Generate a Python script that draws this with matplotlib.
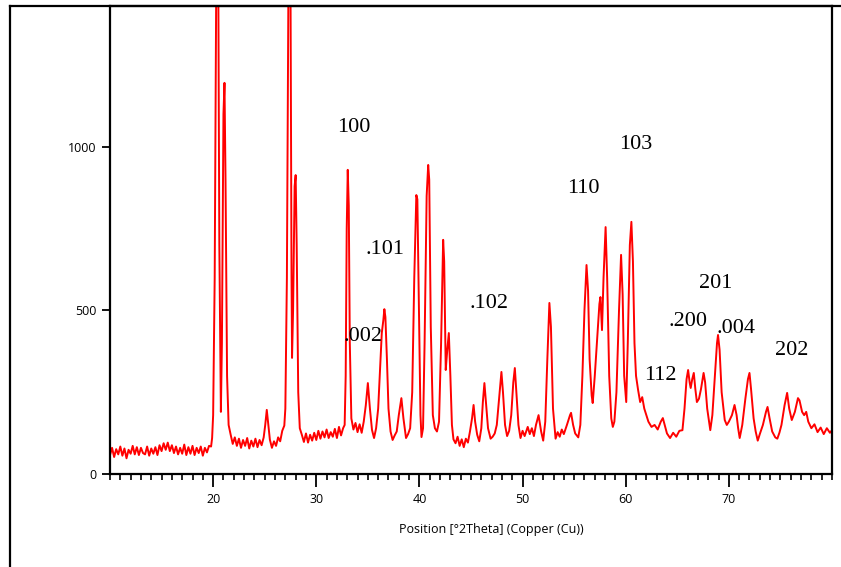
import numpy as np
import matplotlib
matplotlib.use("Agg")
import matplotlib.pyplot as plt
from matplotlib.lines import Line2D
from matplotlib.ticker import MultipleLocator

# =========================================================
# Data
# =========================================================
two_theta = [
    10.0, 10.2, 10.4, 10.6, 10.8, 11.0, 11.2, 11.4, 11.6, 11.8,
    12.0, 12.2, 12.4, 12.6, 12.8, 13.0, 13.2, 13.4, 13.6, 13.8,
    14.0, 14.2, 14.4, 14.6, 14.8, 15.0, 15.2, 15.4, 15.6, 15.8,
    16.0, 16.2, 16.4, 16.6, 16.8, 17.0, 17.2, 17.4, 17.6, 17.8,
    18.0, 18.2, 18.4, 18.6, 18.8, 19.0, 19.2, 19.4, 19.6, 19.8, 19.9,
    20.0, 20.15, 20.3, 20.4, 20.5, 20.6, 20.75, 20.85, 21.0, 21.1, 21.2, 21.35, 21.5,
    21.7, 21.9, 22.1, 22.3, 22.5, 22.7, 22.9, 23.1, 23.3, 23.5, 23.7, 23.9,
    24.1, 24.3, 24.5, 24.7, 24.9, 25.05, 25.2, 25.35, 25.5, 25.7, 25.9,
    26.1, 26.3, 26.5, 26.7, 26.9, 27.0, 27.15, 27.3, 27.4, 27.5, 27.6, 27.65,
    27.75, 27.9, 28.0, 28.1, 28.25, 28.4, 28.6, 28.8, 29.0, 29.2, 29.4, 29.6,
    29.8, 30.0, 30.2, 30.4, 30.6, 30.8, 31.0, 31.2, 31.4, 31.6, 31.8, 32.0,
    32.2, 32.4, 32.6, 32.75, 32.85, 32.95, 33.05, 33.15, 33.25, 33.4, 33.6,
    33.8, 34.0, 34.2, 34.4, 34.6, 34.8, 35.0, 35.2, 35.4, 35.6, 35.8, 36.0,
    36.2, 36.35, 36.5, 36.6, 36.7, 36.85, 37.0, 37.2, 37.4, 37.6, 37.8, 38.0,
    38.25, 38.45, 38.7, 38.9, 39.1, 39.3, 39.5, 39.7, 39.8, 39.95, 40.1, 40.2,
    40.35, 40.5, 40.7, 40.85, 40.95, 41.1, 41.3, 41.5, 41.7, 41.9, 42.1, 42.3,
    42.4, 42.55, 42.7, 42.85, 43.0, 43.15, 43.3, 43.5, 43.7, 43.9, 44.1, 44.3,
    44.5, 44.7, 44.9, 45.1, 45.25, 45.4, 45.6, 45.8, 46.0, 46.15, 46.3, 46.45,
    46.65, 46.9, 47.1, 47.3, 47.5, 47.75, 47.95, 48.1, 48.3, 48.5, 48.7, 48.9,
    49.1, 49.25, 49.4, 49.6, 49.8, 50.0, 50.2, 50.5, 50.7, 50.9, 51.1, 51.3,
    51.55, 51.8, 52.0, 52.2, 52.4, 52.6, 52.75, 52.95, 53.2, 53.4, 53.6, 53.8,
    54.0, 54.3, 54.6, 54.7, 54.9, 55.1, 55.4, 55.6, 55.8, 56.0, 56.2, 56.35,
    56.5, 56.7, 56.8, 57.0, 57.3, 57.45, 57.55, 57.7, 57.85, 58.05, 58.2, 58.4,
    58.6, 58.75, 58.9, 59.1, 59.35, 59.55, 59.7, 59.85, 60.05, 60.2, 60.4, 60.55,
    60.7, 60.85, 61.0, 61.2, 61.4, 61.6, 61.8, 62.0, 62.2, 62.5, 62.8, 63.1,
    63.4, 63.6, 63.8, 64.0, 64.3, 64.6, 64.9, 65.2, 65.5, 65.7, 65.9, 66.05,
    66.2, 66.3, 66.45, 66.6, 66.75, 66.9, 67.1, 67.3, 67.55, 67.7, 67.9, 68.2,
    68.4, 68.6, 68.85, 68.95, 69.1, 69.3, 69.6, 69.8, 70.0, 70.3, 70.55, 70.75,
    70.9, 71.05, 71.3, 71.6, 71.85, 72.0, 72.15, 72.4, 72.6, 72.8, 73.0, 73.3,
    73.6, 73.75, 73.95, 74.2, 74.5, 74.7, 74.9, 75.1, 75.4, 75.65, 75.85, 76.1,
    76.4, 76.7, 76.85, 77.1, 77.3, 77.5, 77.7, 78.0, 78.3, 78.6, 78.9, 79.2,
    79.5, 79.8, 80.0,
]
counts = [
    58, 80, 52, 76, 60, 84, 56, 78, 48, 74,
    62, 86, 60, 82, 58, 80, 64, 60, 84, 56,
    78, 62, 82, 58, 88, 70, 94, 74, 96, 70,
    88, 64, 84, 60, 80, 62, 90, 58, 82, 62,
    86, 58, 80, 64, 84, 56, 80, 66, 86, 84, 110,
    180, 600, 1500, 1600, 1500, 700, 190, 400, 1100, 1196, 900, 300, 150,
    120, 92, 112, 86, 108, 80, 104, 86, 110, 78, 102, 84,
    108, 82, 104, 88, 112, 150, 196, 150, 105, 80, 100,
    86, 112, 100, 132, 148, 200, 600, 1500, 1600, 1500, 600, 355,
    500, 880, 914, 700, 250, 140, 120, 98, 124, 96, 120, 102,
    126, 104, 132, 108, 130, 112, 136, 110, 128, 114, 138, 110,
    144, 118, 140, 150, 300, 750, 930, 820, 400, 170, 136,
    156, 128, 152, 126, 160, 210, 278, 200, 135, 110, 140, 200,
    330, 431, 470, 504, 480, 350, 200, 130, 104, 118, 130, 180,
    232, 170, 110, 122, 140, 250, 600, 853, 840, 500, 180, 113,
    140, 400, 850, 945, 900, 450, 180, 140, 130, 160, 400, 716,
    650, 318, 380, 431, 300, 150, 106, 94, 114, 86, 106, 82,
    108, 96, 130, 170, 211, 160, 120, 100, 140, 220, 278, 220,
    140, 108, 114, 124, 150, 240, 312, 250, 150, 116, 132, 180,
    280, 324, 250, 150, 110, 132, 116, 144, 122, 140, 116, 150,
    180, 130, 102, 160, 350, 523, 450, 200, 108, 128, 114, 136,
    122, 150, 180, 187, 150, 124, 112, 150, 300, 500, 639, 560,
    350, 240, 217, 300, 450, 520, 541, 440, 600, 755, 600, 300,
    170, 144, 160, 250, 500, 670, 550, 300, 220, 400, 700, 771,
    650, 400, 300, 257, 220, 235, 200, 180, 160, 144, 150, 136,
    160, 171, 148, 124, 110, 126, 114, 132, 134, 200, 290, 318,
    280, 263, 290, 309, 260, 220, 230, 260, 309, 280, 200, 134,
    180, 280, 400, 425, 380, 250, 165, 150, 160, 180, 211, 180,
    140, 110, 150, 230, 290, 309, 260, 170, 130, 102, 122, 150,
    190, 205, 170, 130, 112, 108, 126, 150, 210, 248, 200, 165,
    190, 232, 225, 190, 180, 190, 160, 140, 152, 128, 142, 122,
    140, 126, 134,
]

# Miller index labels and where they sit (data coordinates)
hkl_labels = ["100", ".101", ".002", ".102", "110", "103", "112", ".200", "201", ".004", "202"]
hkl_x = [33.6, 36.7, 34.5, 46.7, 55.9, 61.0, 63.4, 66.0, 68.7, 70.7, 76.1]
hkl_y = [1061, 685, 419, 520, 872, 1009, 300, 465, 581, 446, 379]

x_ticks = [20, 30, 40, 50, 60, 70]
y_ticks = [0, 500, 1000]

# =========================================================
# Figure
# =========================================================
W, H = 841, 567
fig = plt.figure(figsize=(W / 100, H / 100), dpi=100)
ax = fig.add_axes([110 / W, 1 - 474 / H, (832 - 110) / W, (474 - 6) / H])

ax.plot(two_theta, counts, color="red", linewidth=1.4)

ax.set_xlim(10, 80)
ax.set_ylim(0, 1431)

ax.set_xticks(x_ticks)
ax.set_yticks(y_ticks)
ax.xaxis.set_minor_locator(MultipleLocator(1))

tick_font = dict(family="Open Sans", size=9)
ax.set_xticklabels([str(t) for t in x_ticks], **tick_font)
ax.set_yticklabels([str(t) for t in y_ticks], **tick_font)
ax.tick_params(axis="x", which="major", direction="out", length=9, width=1.3, pad=5)
ax.tick_params(axis="x", which="minor", direction="out", length=4, width=1.2)
ax.tick_params(axis="y", which="major", direction="out", length=6, width=1.3, pad=4)

for side in ["left", "bottom", "right", "top"]:
    ax.spines[side].set_linewidth(1.6)

ax.set_xlabel("Position [°2Theta] (Copper (Cu))", family="Open Sans", size=9)
ax.xaxis.set_label_coords((491 - 110) / (832 - 110), -0.105)

for lab, x, y in zip(hkl_labels, hkl_x, hkl_y):
    ax.text(x, y, lab, ha="center", va="center",
            family="Liberation Serif", size=16, color="black")

# outer frame remnants (top line and left line of the original page box)
fig.add_artist(Line2D([10 / W, 1.0], [1 - 6 / H, 1 - 6 / H], color="black",
                      linewidth=1.6, transform=fig.transFigure))
fig.add_artist(Line2D([10 / W, 10 / W], [0.0, 1 - 6 / H], color="black",
                      linewidth=1.6, transform=fig.transFigure))

fig.savefig("out.png", dpi=100)
